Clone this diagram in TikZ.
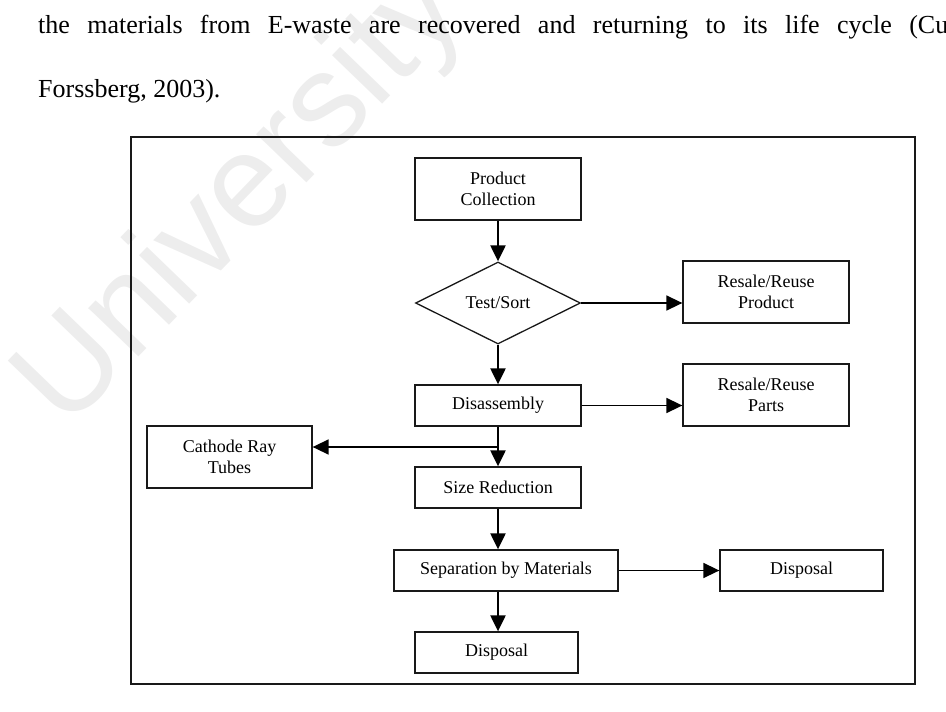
\documentclass[tikz,border=0pt]{standalone}
\usepackage{fontspec}
\setmainfont{Liberation Serif}
\newfontfamily\markfont{Liberation Sans}
\usetikzlibrary{shapes.geometric}
\usetikzlibrary{arrows.meta}

\tikzset{
  stage/.style={draw=black!90,line width=1.3pt,minimum width=166pt,minimum height=62pt,
    inner sep=1pt,align=center,font=\fontsize{18}{21}\selectfont},
  flatstage/.style={stage,minimum height=41pt},
  check/.style={diamond,draw=black!90,line width=1.3pt,minimum width=165pt,minimum height=82pt,
    inner sep=0pt,font=\fontsize{18}{21}\selectfont},
  flow/.style={-{Triangle[length=16pt,width=15pt]},line width=2.2pt},
  sideflow/.style={flow,line width=1.6pt},
  pagetext/.style={anchor=base west,inner sep=0pt,font=\fontsize{26}{26}\selectfont}
}

\begin{document}
\begin{tikzpicture}[x=1pt,y=-1pt]
        \useasboundingbox (0,0) rectangle (946,712);
        % watermark
        \node[anchor=base west,inner sep=0pt,rotate=46,text=black!7,
          font=\markfont\fontsize{132}{132}\selectfont] (mark) at (66,432) {University};
        % running text above the figure
        \begin{scope}
          \clip (0,0) rectangle (946,712);
          \node[pagetext] (line1) at (38,33) {\hbox to 910pt{the\hfill materials\hfill from\hfill
            E-waste\hfill are\hfill recovered\hfill and\hfill returning\hfill to\hfill its\hfill
            life\hfill cycle\hfill (Cu}};
          \node[pagetext] (line2) at (38,97) {Forssberg, 2003).};
        \end{scope}
        % frame
        \draw[line width=1.5pt,draw=black!90] (131,137) rectangle (915,684);
        % stages
        \node[stage] (coll) at (498,189) {Product\\Collection};
        \node[check] (test) at (498,303) {Test/Sort};
        \node[stage] (reprod) at (766,292) {Resale/Reuse\\Product};
        \node[flatstage] (dis) at (498,405.5) {Disassembly};
        \node[stage] (repart) at (766,395) {Resale/Reuse\\Parts};
        \node[stage,minimum width=165pt] (crt) at (229.5,457) {Cathode Ray\\Tubes};
        \node[flatstage] (size) at (498,487.5) {Size Reduction};
        \node[flatstage,minimum width=224pt] (sep) at (506,570.5) {Separation by Materials};
        \node[flatstage,minimum width=163pt] (dispr) at (801.5,570.5) {Disposal};
        \node[flatstage,minimum width=163pt] (dispb) at (496.5,652.5) {Disposal};
        % arrows
        \draw[flow] (coll) -- (test);
        \draw[sideflow] (test.east) -- (test.east -| reprod.west);
        \draw[flow] (test) -- (dis);
        \draw[sideflow] (dis.east) -- (dis.east -| repart.west);
        \draw[flow] (dis) -- (size);
        \coordinate (split) at (498,447);
        \draw[sideflow] (split) -- (split -| crt.east);
        \draw[flow] (size.south) -- (size.south |- sep.north);
        \draw[sideflow] (sep.east) -- (sep.east -| dispr.west);
        \draw[flow] (size.south |- sep.south) -- (size.south |- dispb.north);
      \end{tikzpicture}
\end{document}
